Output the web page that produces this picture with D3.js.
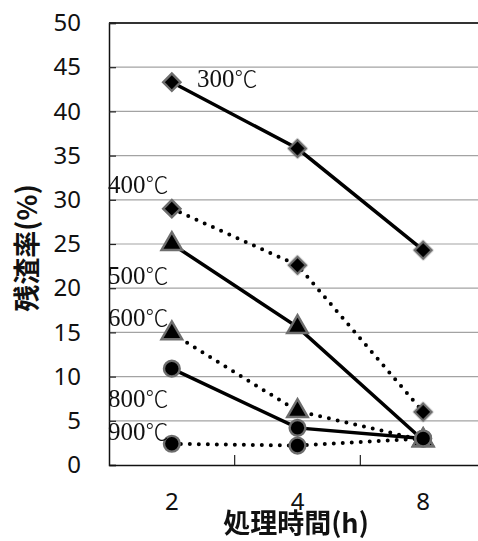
<!DOCTYPE html>
<html>
<head>
<meta charset="utf-8">
<script src="https://cdn.jsdelivr.net/npm/d3@7"></script>
<style>
  body { margin: 0; background: #fff; }
  svg { display: block; }
  .tick-label text { font-family: "Noto Sans", sans-serif; font-size: 24px; fill: #111; }
  .title { font-family: "Noto Sans CJK JP", sans-serif; font-weight: bold; font-size: 27px; fill: #111; }
  .series-label { font-family: "Liberation Serif", serif; font-size: 25px; fill: #111; }
  .series-label .unit { font-family: "Noto Sans CJK JP", sans-serif; font-size: 23px; font-weight: 300; }
</style>
</head>
<body>
<svg id="chart" width="478" height="541"></svg>
<script>
// data
const times = ["2", "4", "8"];
const seriesNames = ["300℃", "400℃", "500℃", "600℃", "800℃", "900℃"];
const v300 = [43.3, 35.8, 24.3];
const v400 = [29.0, 22.6, 6.0];
const v500 = [25.0, 15.6, 2.8];
const v600 = [14.9, 6.1, 2.8];
const v800 = [10.9, 4.2, 3.0];
const v900 = [2.4, 2.2, 3.0];
const yTicks = [0, 5, 10, 15, 20, 25, 30, 35, 40, 45, 50];

const values = [v300, v400, v500, v600, v800, v900];
const markers = ["diamond", "diamond", "triangle", "triangle", "circle", "circle"];
const dashed = [false, true, false, true, false, true];

const svg = d3.select("#chart");
const margin = { top: 23, left: 109, bottom: 465, right: 486 };

const x = d3.scaleBand().domain(times).range([margin.left, margin.right]).padding(0);
const y = d3.scaleLinear().domain([0, 50]).range([margin.bottom, margin.top]);

// soft grey halo round the markers
const defs = svg.append("defs");
defs.append("filter").attr("id", "soft")
  .attr("x", "-50%").attr("y", "-50%").attr("width", "200%").attr("height", "200%")
  .append("feGaussianBlur").attr("stdDeviation", 0.6);

// gridlines
svg.append("g")
  .selectAll("line")
  .data(yTicks.filter(d => d > 0 && d < 50))
  .join("line")
  .attr("x1", margin.left).attr("x2", margin.right)
  .attr("y1", d => y(d)).attr("y2", d => y(d))
  .attr("stroke", "#a3a3a3").attr("stroke-width", 1.2);

// top border
svg.append("line")
  .attr("x1", margin.left).attr("x2", margin.right)
  .attr("y1", y(50)).attr("y2", y(50))
  .attr("stroke", "#333").attr("stroke-width", 2);

// y axis labels
svg.append("g")
  .attr("class", "tick-label")
  .attr("transform", `translate(${margin.left},0)`)
  .call(d3.axisLeft(y).tickValues(yTicks).tickSize(0).tickPadding(28))
  .call(g => g.select(".domain").remove());

// inner y ticks
svg.append("g")
  .attr("transform", `translate(${margin.left},0)`)
  .call(d3.axisRight(y).tickValues(yTicks).tickSize(7).tickFormat(""))
  .call(g => g.selectAll("line").attr("stroke", "#222").attr("stroke-width", 1.2))
  .call(g => g.select(".domain").attr("stroke", "#111").attr("stroke-width", 1.5));

// x axis
svg.append("g")
  .attr("transform", `translate(0,${margin.bottom})`)
  .call(d3.axisTop(x).tickSize(0).tickFormat(""))
  .call(g => g.select(".domain").attr("stroke", "#111").attr("stroke-width", 1.5));

// x inner ticks at band boundaries
svg.append("g")
  .selectAll("line")
  .data(times.slice(1))
  .join("line")
  .attr("x1", d => x(d)).attr("x2", d => x(d))
  .attr("y1", margin.bottom).attr("y2", margin.bottom - 10)
  .attr("stroke", "#222").attr("stroke-width", 1.2);

// x tick labels
svg.append("g")
  .attr("class", "tick-label")
  .attr("transform", `translate(0,${margin.bottom})`)
  .call(d3.axisBottom(x).tickSize(0).tickPadding(28))
  .call(g => g.select(".domain").remove());

// lines
const line = d3.line()
  .x((d, i) => x(times[i]) + x.bandwidth() / 2)
  .y(d => y(d));

const symbolFor = {
  diamond: d3.symbol().type(d3.symbolSquare).size(150),
  triangle: d3.symbol().type(d3.symbolTriangle).size(185),
  circle: d3.symbol().type(d3.symbolCircle).size(195)
};

values.forEach((vals, s) => {
  svg.append("path")
    .datum(vals)
    .attr("d", line)
    .attr("fill", "none")
    .attr("stroke", "#000")
    .attr("stroke-width", dashed[s] ? 4 : 3.5)
    .attr("stroke-linecap", "round")
    .attr("stroke-dasharray", dashed[s] ? "0 9" : null);
});

values.forEach((vals, s) => {
  svg.append("g")
    .attr("filter", "url(#soft)")
    .selectAll("path")
    .data(vals)
    .join("path")
    .attr("d", symbolFor[markers[s]])
    .attr("transform", (d, i) => {
      const cx = x(times[i]) + x.bandwidth() / 2;
      return `translate(${cx},${y(d)})` + (markers[s] === "diamond" ? " rotate(45)" : "");
    })
    .attr("fill", "#000")
    .attr("stroke", "#6e6e6e")
    .attr("stroke-width", 2.4);
});

// series labels
const labelPlace = [
  { x: 197, v: 43.8 },
  { x: 108, v: 31.8 },
  { x: 108, v: 21.5 },
  { x: 108, v: 16.7 },
  { x: 108, v: 7.6 },
  { x: 108, v: 3.8 }
];
const labels = svg.append("g")
  .selectAll("text")
  .data(seriesNames)
  .join("text")
  .attr("class", "series-label")
  .attr("x", (d, i) => labelPlace[i].x)
  .attr("y", (d, i) => y(labelPlace[i].v))
  .attr("dy", "0.35em");
labels.append("tspan").text(d => d.slice(0, -1));
labels.append("tspan").attr("class", "unit").text(d => d.slice(-1));

// axis titles
svg.append("text")
  .attr("class", "title")
  .attr("x", 296)
  .attr("y", 533)
  .attr("text-anchor", "middle")
  .text("処理時間(h)");

svg.append("text")
  .attr("class", "title")
  .attr("transform", "translate(37,248) rotate(-90)")
  .attr("text-anchor", "middle")
  .text("残渣率(%)");
</script>
</body>
</html>
